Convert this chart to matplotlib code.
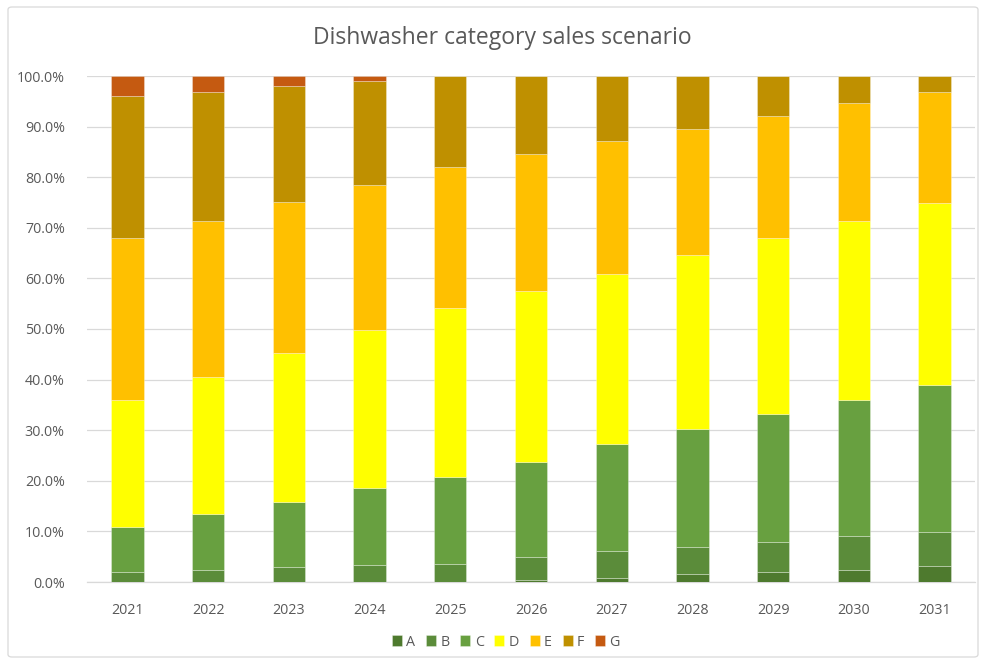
import numpy as np
import matplotlib
matplotlib.use("Agg")
import matplotlib.pyplot as plt
from matplotlib.patches import FancyBboxPatch
from matplotlib.ticker import PercentFormatter

plt.rcParams['font.family'] = ['Open Sans', 'DejaVu Sans']

years = ['2021', '2022', '2023', '2024', '2025', '2026', '2027', '2028', '2029', '2030', '2031']
classes = ['A', 'B', 'C', 'D', 'E', 'F', 'G']

# share of sales per energy class, percent
share_A = [0.0, 0.0, 0.0, 0.0, 0.0, 0.3, 0.7, 1.5, 1.9, 2.3, 3.1]
share_B = [1.9, 2.3, 3.0, 3.4, 3.6, 4.6, 5.4, 5.4, 6.0, 6.7, 6.7]
share_C = [9.0, 11.2, 12.8, 15.1, 17.2, 18.9, 21.1, 23.3, 25.3, 27.0, 29.2]
share_D = [25.1, 27.1, 29.5, 31.3, 33.4, 33.8, 33.7, 34.4, 34.8, 35.3, 36.0]
share_E = [32.0, 30.8, 29.8, 28.7, 27.8, 27.0, 26.3, 24.9, 24.1, 23.4, 21.8]
share_F = [28.0, 25.4, 22.9, 20.6, 18.0, 15.4, 12.8, 10.5, 7.9, 5.3, 3.2]
share_G = [4.0, 3.2, 2.0, 0.9, 0.0, 0.0, 0.0, 0.0, 0.0, 0.0, 0.0]

colors = ['#4E7A2E', '#5B8C3A', '#68A040', '#FFFF00', '#FFC000', '#BF9000', '#C55A11']

series = [share_A, share_B, share_C, share_D, share_E, share_F, share_G]

fig = plt.figure(figsize=(9.82, 6.65), dpi=100)
ax = fig.add_axes([87 / 982, 1 - 582 / 665, (975 - 87) / 982, (582 - 76) / 665])

x = np.arange(len(years))
bottom = np.zeros(len(years))
for name, vals, col in zip(classes, series, colors):
    vals = np.array(vals) / 100.0
    ax.bar(x, vals, width=0.4, bottom=bottom, color=col, label=name,
           edgecolor=(1, 1, 1, 0.35), linewidth=0.6, zorder=3)
    bottom += vals

ax.set_xlim(-0.5, len(years) - 0.5)
ax.set_ylim(0, 1.0)
ax.set_yticks(np.arange(0, 1.01, 0.1))
ax.yaxis.set_major_formatter(PercentFormatter(1.0, decimals=1))
ax.set_xticks(x)
ax.set_xticklabels(years)
ax.tick_params(axis='both', length=0, labelsize=10.3, colors='#595959')
ax.tick_params(axis='x', pad=15)
ax.tick_params(axis='y', pad=16)
ax.grid(axis='y', color='#D9D9D9', linewidth=0.9, zorder=0)
for s in ['top', 'right', 'left']:
    ax.spines[s].set_visible(False)
ax.spines['bottom'].set_color('#D9D9D9')
ax.spines['bottom'].set_linewidth(0.9)

fig.text(502 / 982, 1 - 38 / 665, 'Dishwasher category sales scenario', ha='center', va='center',
         fontsize=16.5, color='#595959')

leg = fig.legend(loc='center', bbox_to_anchor=(506 / 982, 1 - 642 / 665), ncol=7, frameon=False,
                 fontsize=10.3, handlelength=0.7, handleheight=0.7, handletextpad=0.3,
                 columnspacing=0.75)
for t in leg.get_texts():
    t.set_color('#595959')

border = FancyBboxPatch((8 / 982, 8 / 665), 970 / 982, 650 / 665, boxstyle='round,pad=0,rounding_size=0.004',
                        transform=fig.transFigure, fill=False, edgecolor='#D9D9D9', linewidth=0.9)
fig.patches.append(border)

fig.savefig('out.png', dpi=100)
